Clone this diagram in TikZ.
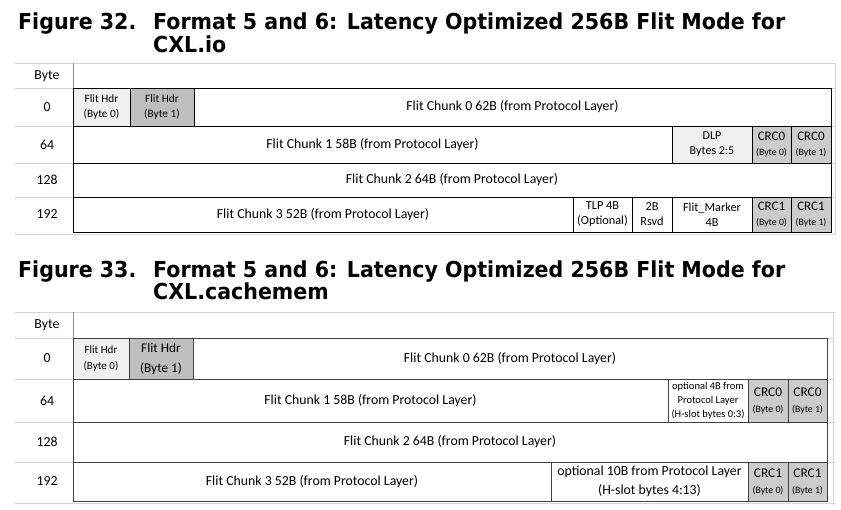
\documentclass[tikz,border=0pt]{standalone}
\usepackage{fontspec}
\usepackage{graphicx}
\setmainfont{Carlito}
\newfontfamily\titlefont{DejaVu Sans}
\newcommand\cellbox[7]{%
  \pgfmathsetmacro\cw{#4-#2}\pgfmathsetmacro\ch{#5-#3}%
  \pgfmathsetmacro\cx{(#4+#2)/2}\pgfmathsetmacro\cy{(#5+#3)/2}%
  \node[cell,#6,minimum width=\cw pt,minimum height=\ch pt] (#1) at (\cx,\cy) {#7};}
\newcommand\fs[2]{\fontsize{#1}{#2}\selectfont}
\begin{document}
\begin{tikzpicture}[x=1pt,y=-1pt,
  cell/.style={draw=black, line width=0.8pt, inner sep=0pt, outer sep=0pt, align=center, font=\fs{13.8}{16}},
  gridln/.style={draw=black!16, line width=0.6pt},
  lbl/.style={inner sep=0pt, font=\fs{13.8}{16}},
  figtitle/.style={anchor=base west, inner sep=0pt, font=\titlefont\bfseries\fs{22}{26}},
  lite/.style={fill=black!6},
  dark/.style={fill=black!25},
  crc/.style={fill=black!20},
]
\useasboundingbox[fill=white] (0,0) rectangle (841,509);

% ---------------- Figure 32 ----------------
\node[figtitle] (f32) at (18,29) {\scalebox{0.935}[1]{Figure 32.}};
\node[figtitle] (f32a) at (153,29) {\scalebox{0.935}[1]{Format 5 and 6: Latency Optimized 256B Flit Mode for}};
\node[figtitle] (f32b) at (153,52) {\scalebox{0.935}[1]{CXL.io}};

\foreach \yy in {63,88,126,163,197,234} {\draw[gridln] (15,\yy) -- (835,\yy);}
\draw[gridln] (835,63) -- (835,235);
\draw[draw=black!45, line width=0.6pt] (73,63) -- (73,88);

\node[lbl] (a0) at (47,76) {Byte};
\node[lbl] (a1) at (47,107) {0};
\node[lbl] (a2) at (47,144.5) {64};
\node[lbl] (a3) at (47,180) {128};
\node[lbl] (a4) at (47,214.5) {192};

\cellbox{p0}{73}{88}{130}{126}{lite,font=\fs{11.3}{15}}{Flit Hdr\\(Byte 0)}
\cellbox{p1}{130}{88}{194}{126}{dark,font=\fs{11.3}{15}}{Flit Hdr\\(Byte 1)}
\cellbox{p2}{194}{88}{831}{126}{}{Flit Chunk 0 62B (from Protocol Layer)}

\cellbox{q0}{73}{126}{672}{163}{}{Flit Chunk 1 58B (from Protocol Layer)}
\cellbox{q1}{672}{126}{752}{163}{lite,font=\fs{12}{15}}{DLP\\Bytes 2:5}
\cellbox{q2}{752}{126}{791}{163}{crc,font=\fs{9.8}{14.5}}{\fs{13}{14.5}CRC0\\(Byte 0)}
\cellbox{q3}{791}{126}{831}{163}{crc,font=\fs{9.8}{14.5}}{\fs{13}{14.5}CRC0\\(Byte 1)}

\cellbox{r0}{73}{163}{831}{197}{}{Flit Chunk 2 64B (from Protocol Layer)}

\cellbox{s0}{73}{197}{573}{232}{}{Flit Chunk 3 52B (from Protocol Layer)}
\cellbox{s1}{573}{197}{632}{232}{font=\fs{12.3}{15}}{TLP 4B\\(Optional)}
\cellbox{s2}{632}{197}{672}{232}{font=\fs{12.3}{15}}{2B\\Rsvd}
\cellbox{s3}{672}{197}{752}{232}{font=\fs{12.3}{15}}{Flit\_Marker\\4B}
\cellbox{s4}{752}{197}{791}{232}{crc,font=\fs{9.8}{14.5}}{\fs{13}{14.5}CRC1\\(Byte 0)}
\cellbox{s5}{791}{197}{831}{232}{crc,font=\fs{9.8}{14.5}}{\fs{13}{14.5}CRC1\\(Byte 1)}

% ---------------- Figure 33 ----------------
\node[figtitle] (f33) at (18,277) {\scalebox{0.935}[1]{Figure 33.}};
\node[figtitle] (f33a) at (153,277) {\scalebox{0.935}[1]{Format 5 and 6: Latency Optimized 256B Flit Mode for}};
\node[figtitle] (f33b) at (153,299) {\scalebox{0.935}[1]{CXL.cachemem}};

\foreach \yy in {312,338,379,422,462,503} {\draw[gridln] (15,\yy) -- (835,\yy);}
\draw[gridln] (833,312) -- (833,505);
\draw[draw=black!45, line width=0.6pt] (73,312) -- (73,338);

\node[lbl] (b0) at (47,325) {Byte};
\node[lbl] (b1) at (47,358.5) {0};
\node[lbl] (b2) at (47,400.5) {64};
\node[lbl] (b3) at (47,442) {128};
\node[lbl] (b4) at (47,481.5) {192};

\begin{scope}[cell/.append style={draw=black!75}]
\cellbox{u0}{73}{338}{129}{379}{lite,font=\fs{11}{16}}{Flit Hdr\\(Byte 0)}
\cellbox{u1}{129}{338}{193}{379}{dark,font=\fs{13.3}{20}}{Flit Hdr\\(Byte 1)}
\cellbox{u2}{193}{338}{827}{379}{}{Flit Chunk 0 62B (from Protocol Layer)}

\cellbox{v0}{73}{379}{668}{422}{}{Flit Chunk 1 58B (from Protocol Layer)}
\cellbox{v1}{668}{379}{748}{422}{font=\fs{10.5}{14}}{optional 4B from\\Protocol Layer\\(H-slot bytes 0:3)}
\cellbox{v2}{748}{379}{788}{422}{crc,font=\fs{9.8}{16}}{\fs{13.3}{16}CRC0\\(Byte 0)}
\cellbox{v3}{788}{379}{827}{422}{crc,font=\fs{9.8}{16}}{\fs{13.3}{16}CRC0\\(Byte 1)}

\cellbox{w0}{73}{422}{827}{462}{}{Flit Chunk 2 64B (from Protocol Layer)}

\cellbox{x0}{73}{462}{551}{501}{}{Flit Chunk 3 52B (from Protocol Layer)}
\cellbox{x1}{551}{462}{748}{501}{font=\fs{13.8}{19}}{optional 10B from Protocol Layer\\(H-slot bytes 4:13)}
\cellbox{x2}{748}{462}{788}{501}{crc,font=\fs{9.8}{16}}{\fs{13.3}{16}CRC1\\(Byte 0)}
\cellbox{x3}{788}{462}{827}{501}{crc,font=\fs{9.8}{16}}{\fs{13.3}{16}CRC1\\(Byte 1)}
\end{scope}
\end{tikzpicture}
\end{document}
